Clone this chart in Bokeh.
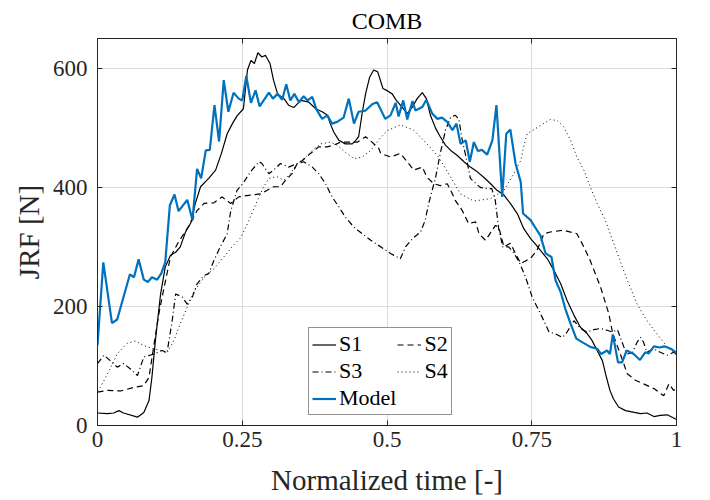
from bokeh.plotting import figure
from bokeh.models import Range1d, FixedTicker, LinearAxis, Legend, LegendItem
from bokeh.embed import file_html
from bokeh.resources import INLINE

# ---------------- data ----------------
s1_t = [0, 0.017, 0.028, 0.037, 0.045, 0.069, 0.080, 0.089, 0.094, 0.100, 0.109, 0.117, 0.126, 0.135,
        0.143, 0.152, 0.161, 0.169, 0.178, 0.192, 0.204, 0.214, 0.224, 0.233, 0.241, 0.252, 0.259, 0.265,
        0.271, 0.277, 0.284, 0.290, 0.298, 0.304, 0.311, 0.322, 0.330, 0.339, 0.351, 0.365, 0.377, 0.388,
        0.397, 0.402, 0.408, 0.417, 0.428, 0.440, 0.446, 0.451, 0.457, 0.463, 0.470, 0.477, 0.484, 0.493,
        0.501, 0.509, 0.516, 0.525, 0.535, 0.544, 0.552, 0.561, 0.568, 0.575, 0.584, 0.592, 0.601, 0.610,
        0.621, 0.633, 0.644, 0.656, 0.667, 0.679, 0.690, 0.702, 0.713, 0.725, 0.736, 0.748, 0.756, 0.765,
        0.777, 0.788, 0.800, 0.811, 0.823, 0.834, 0.846, 0.854, 0.863, 0.872, 0.879, 0.885, 0.891, 0.900,
        0.912, 0.927, 0.938, 0.949, 0.961, 0.972, 0.984, 1.0]
s1_v = [21, 20, 21, 25, 21, 14, 22, 42, 81, 143, 221, 266, 286, 291,
        300, 325, 340, 373, 401, 415, 429, 457, 490, 507, 520, 532, 597, 613,
        608, 626, 619, 622, 608, 580, 557, 549, 538, 534, 546, 543, 532, 527,
        521, 507, 493, 479, 473, 473, 479, 485, 524, 557, 585, 597, 594, 566,
        562, 557, 546, 536, 524, 535, 549, 559, 549, 521, 499, 485, 471, 462,
        454, 443, 434, 426, 417, 406, 395, 387, 373, 356, 331, 314, 305, 294,
        280, 261, 238, 210, 185, 165, 154, 143, 126, 109, 81, 59, 45, 31,
        25, 22, 20, 21, 15, 17, 18, 10]

s2_t = [0, 0.017, 0.040, 0.063, 0.080, 0.089, 0.097, 0.106, 0.115, 0.126, 0.138, 0.149, 0.161, 0.172,
        0.184, 0.201, 0.215, 0.230, 0.244, 0.264, 0.282, 0.293, 0.304, 0.316, 0.325, 0.336, 0.345, 0.354,
        0.368, 0.382, 0.397, 0.408, 0.420, 0.434, 0.449, 0.463, 0.474, 0.486, 0.489, 0.506, 0.523, 0.535,
        0.546, 0.561, 0.569, 0.581, 0.592, 0.604, 0.613, 0.618, 0.630, 0.641, 0.653, 0.659, 0.670, 0.682,
        0.687, 0.693, 0.702, 0.713, 0.722, 0.731, 0.748, 0.759, 0.771, 0.782, 0.805, 0.828, 0.840, 0.851,
        0.869, 0.883, 0.890, 0.903, 0.915, 0.929, 0.943, 0.961, 0.978, 0.987, 0.995, 1.0]
s2_v = [56, 59, 58, 64, 67, 81, 132, 188, 232, 283, 305, 322, 340, 361,
        373, 374, 384, 373, 384, 387, 389, 395, 401, 401, 412, 423, 440, 445,
        457, 468, 468, 471, 476, 476, 476, 485, 476, 465, 457, 451, 457, 443,
        429, 434, 417, 406, 403, 406, 389, 378, 361, 339, 342, 322, 311, 328,
        336, 333, 300, 306, 289, 272, 281, 294, 322, 325, 328, 322, 300, 277,
        232, 188, 154, 120, 87, 76, 70, 62, 50, 70, 59, 62]

s3_t = [0, 0.011, 0.022, 0.034, 0.045, 0.057, 0.069, 0.080, 0.097, 0.112, 0.120, 0.129, 0.135, 0.146,
        0.155, 0.164, 0.172, 0.184, 0.192, 0.201, 0.212, 0.224, 0.230, 0.241, 0.253, 0.264, 0.279, 0.284,
        0.296, 0.304, 0.316, 0.330, 0.345, 0.356, 0.371, 0.382, 0.394, 0.405, 0.417, 0.428, 0.443, 0.472,
        0.494, 0.506, 0.523, 0.532, 0.544, 0.558, 0.566, 0.572, 0.584, 0.592, 0.601, 0.610, 0.618, 0.624,
        0.630, 0.639, 0.644, 0.655, 0.661, 0.672, 0.681, 0.687, 0.693, 0.700, 0.710, 0.719, 0.728, 0.739,
        0.751, 0.765, 0.780, 0.791, 0.803, 0.811, 0.823, 0.834, 0.846, 0.857, 0.869, 0.880, 0.889, 0.898,
        0.909, 0.915, 0.924, 0.932, 0.938, 0.943, 0.949, 0.961, 0.972, 0.984, 0.995, 1.0]
s3_v = [104, 118, 109, 98, 104, 95, 84, 115, 120, 126, 122, 176, 221, 216,
        204, 216, 238, 252, 255, 277, 300, 322, 360, 395, 409, 426, 443, 440,
        423, 429, 440, 434, 440, 443, 434, 423, 406, 384, 367, 350, 333, 311,
        297, 289, 280, 300, 314, 325, 345, 373, 417, 457, 496, 518, 521, 515,
        479, 440, 415, 405, 400, 398, 398, 378, 330, 300, 300, 290, 275, 250,
        215, 188, 157, 154, 148, 157, 176, 163, 157, 161, 163, 160, 157, 161,
        132, 120, 123, 140, 148, 140, 123, 129, 123, 118, 123, 120]

s4_t = [0, 0.005, 0.020, 0.034, 0.051, 0.066, 0.080, 0.097, 0.109, 0.120, 0.132, 0.143, 0.155, 0.166,
        0.184, 0.201, 0.218, 0.235, 0.247, 0.259, 0.264, 0.276, 0.287, 0.296, 0.310, 0.322, 0.333, 0.345,
        0.356, 0.371, 0.385, 0.402, 0.414, 0.428, 0.443, 0.457, 0.472, 0.486, 0.500, 0.523, 0.546, 0.569,
        0.589, 0.610, 0.627, 0.650, 0.679, 0.702, 0.719, 0.731, 0.736, 0.742, 0.754, 0.765, 0.782, 0.794,
        0.805, 0.817, 0.828, 0.840, 0.851, 0.863, 0.877, 0.898, 0.915, 0.932, 0.949, 0.966, 0.984, 1.0]
s4_v = [58, 64, 92, 120, 138, 142, 134, 129, 126, 122, 143, 171, 199, 224,
        249, 263, 283, 303, 315, 339, 350, 378, 401, 415, 418, 412, 423, 440,
        448, 462, 473, 476, 471, 459, 448, 451, 462, 480, 495, 505, 496, 473,
        451, 417, 389, 377, 381, 395, 423, 445, 468, 490, 497, 504, 514, 512,
        502, 479, 451, 429, 401, 373, 345, 289, 244, 204, 176, 154, 132, 118]

model_t = [0, 0.010, 0.025, 0.034, 0.056, 0.063, 0.071, 0.080, 0.087, 0.094, 0.103, 0.110, 0.117, 0.125,
           0.133, 0.140, 0.155, 0.164, 0.172, 0.179, 0.187, 0.194, 0.202, 0.210, 0.218, 0.226, 0.235, 0.244,
           0.250, 0.257, 0.265, 0.273, 0.280, 0.296, 0.303, 0.311, 0.319, 0.326, 0.333, 0.340, 0.348, 0.356,
           0.363, 0.371, 0.378, 0.388, 0.397, 0.405, 0.414, 0.425, 0.434, 0.443, 0.451, 0.463, 0.475, 0.483,
           0.497, 0.506, 0.515, 0.520, 0.528, 0.535, 0.544, 0.549, 0.561, 0.568, 0.578, 0.587, 0.595, 0.604,
           0.613, 0.620, 0.627, 0.636, 0.643, 0.650, 0.657, 0.664, 0.673, 0.682, 0.689, 0.699, 0.706, 0.713,
           0.722, 0.731, 0.735, 0.748, 0.759, 0.765, 0.774, 0.784, 0.791, 0.800, 0.808, 0.817, 0.827, 0.837,
           0.851, 0.863, 0.870, 0.880, 0.885, 0.890, 0.899, 0.906, 0.914, 0.926, 0.937, 0.946, 0.952, 0.961,
           0.971, 0.979, 0.990, 1.0]
model_v = [135, 274, 172, 178, 254, 249, 279, 245, 241, 249, 245, 255, 274, 370,
           388, 360, 379, 345, 431, 415, 462, 463, 538, 477, 580, 527, 559, 549,
           546, 587, 542, 563, 536, 559, 549, 557, 547, 573, 546, 557, 543, 553,
           546, 552, 531, 515, 521, 507, 510, 517, 549, 507, 527, 529, 540, 543,
           515, 521, 542, 519, 546, 514, 545, 529, 535, 547, 524, 515, 517, 510,
           496, 507, 473, 479, 443, 476, 461, 463, 455, 479, 538, 384, 490, 497,
           440, 409, 356, 345, 328, 319, 289, 283, 244, 224, 196, 171, 146, 140,
           132, 129, 120, 126, 120, 153, 106, 106, 126, 120, 110, 123, 121, 133,
           131, 133, 129, 122]

x_ticks = [0, 0.25, 0.5, 0.75, 1]
x_tick_labels = ["0", "0.25", "0.5", "0.75", "1"]
y_ticks = [0, 200, 400, 600]

# ---------------- styling ----------------
FONT = "Liberation Serif"
TICKFONT = "serif"
AX = "#262626"

p = figure(frame_width=579, frame_height=387,
           x_range=Range1d(0, 1), y_range=Range1d(0, 650),
           output_backend="svg", toolbar_location=None,
           min_border_left=97, min_border_right=26, min_border_top=38, min_border_bottom=67,
           title="COMB")
p.background_fill_color = "white"
p.border_fill_color = "white"
p.outline_line_color = AX
p.outline_line_width = 1

p.title.align = "center"
p.title.text_font = FONT
p.title.text_font_size = "24px"
p.title.text_font_style = "normal"
p.title.text_color = "black"
p.title.standoff = 9

for ax in (p.xaxis[0], p.yaxis[0]):
    ax.major_label_text_font = TICKFONT
    ax.major_label_text_font_size = "23px"
    ax.major_label_text_font_style = "normal"
    ax.major_label_text_color = AX
    ax.axis_label_text_font = FONT
    ax.axis_label_text_font_size = "29px"
    ax.axis_label_text_font_style = "normal"
    ax.axis_label_text_color = AX
    ax.axis_line_color = AX
    ax.major_tick_line_color = AX
    ax.major_tick_in = 5
    ax.major_tick_out = 0
    ax.minor_tick_line_color = None

p.xaxis[0].ticker = FixedTicker(ticks=x_ticks)
p.xaxis[0].major_label_overrides = {t: s for t, s in zip(x_ticks, x_tick_labels)}
p.xaxis[0].axis_label = "Normalized time [-]"
p.xaxis[0].major_label_standoff = 6
p.xaxis[0].axis_label_standoff = 14
p.yaxis[0].ticker = FixedTicker(ticks=y_ticks)
p.yaxis[0].axis_label = "JRF [N]"
p.yaxis[0].major_label_standoff = 10
p.yaxis[0].axis_label_standoff = 5

# mirrored ticks on top and right (no labels)
top = LinearAxis(ticker=FixedTicker(ticks=x_ticks))
right = LinearAxis(ticker=FixedTicker(ticks=y_ticks))
for ax in (top, right):
    ax.major_label_text_font_size = "1px"
    ax.major_label_text_color = None
    ax.major_label_standoff = 0
    ax.axis_line_color = AX
    ax.major_tick_line_color = AX
    ax.major_tick_in = 5
    ax.major_tick_out = 0
    ax.minor_tick_line_color = None
p.add_layout(top, "above")
p.add_layout(right, "right")

p.xgrid.ticker = FixedTicker(ticks=x_ticks)
p.ygrid.ticker = FixedTicker(ticks=y_ticks)
for g in (p.xgrid[0], p.ygrid[0]):
    g.grid_line_color = "#dcdcdc"
    g.grid_line_width = 1

# ---------------- lines ----------------
r1 = p.line(s1_t, s1_v, line_color="black", line_width=1.2)
r2 = p.line(s2_t, s2_v, line_color="black", line_width=1.2, line_dash="6 4")
r3 = p.line(s3_t, s3_v, line_color="black", line_width=1.2, line_dash="6 3 1 3")
r4 = p.line(s4_t, s4_v, line_color="black", line_width=1.0, line_dash="1 3")
rm = p.line(model_t, model_v, line_color="#0072BD", line_width=2.2)

legend = Legend(items=[LegendItem(label="S1", renderers=[r1]),
                       LegendItem(label="S2", renderers=[r2]),
                       LegendItem(label="S3", renderers=[r3]),
                       LegendItem(label="S4", renderers=[r4]),
                       LegendItem(label="Model", renderers=[rm])],
                location=(211, 10), orientation="horizontal", ncols=2)
legend.label_text_font = TICKFONT
legend.label_text_font_style = "normal"
legend.label_text_font_size = "22px"
legend.label_text_color = "black"
legend.glyph_width = 24
legend.glyph_height = 21
legend.label_height = 21
legend.label_standoff = 3
legend.spacing = 1
legend.padding = 3
legend.margin = 0
legend.border_line_color = AX
legend.border_line_width = 1
legend.background_fill_alpha = 1
p.add_layout(legend, "center")

open("out.html", "w").write(file_html(p, INLINE))
